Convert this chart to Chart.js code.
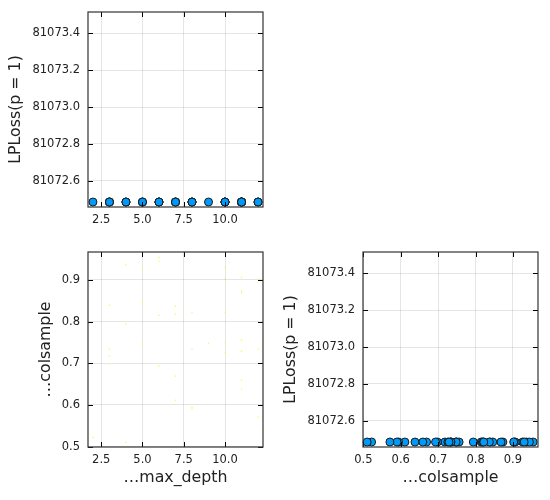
<!DOCTYPE html>
<html lang="en">
<head>
    <meta charset="UTF-8">
    <title>Corner plot</title>
    <script src="https://cdn.jsdelivr.net/npm/chart.js@4.4.0/dist/chart.umd.min.js"></script>
    <style>
        body { margin: 0; background: #fff; }
        #panneau { position: relative; width: 550px; height: 500px; }
        canvas { position: absolute; }
    </style>
</head>
<body>
<div id="panneau">
    <canvas id="chartDepthLoss" width="275" height="240" style="left:0;top:0"></canvas>
    <canvas id="chartDepthCol" width="275" height="260" style="left:0;top:240px"></canvas>
    <canvas id="chartColLoss" width="275" height="260" style="left:275px;top:240px"></canvas>
</div>

<script>
    // valeurs
    const maxDepth = [4, 6, 6, 5, 10, 10, 11, 11, 11, 12, 3, 5, 6, 4, 5, 3, 7, 7, 8, 10,
        10, 11, 9, 8, 12, 3, 3, 6, 2, 4, 10, 11, 7, 11, 11, 7, 8, 8, 12];
    const colsample = [0.936, 0.954, 0.944, 0.926, 0.930, 0.904, 0.906, 0.873, 0.868, 0.902,
        0.839, 0.846, 0.815, 0.794, 0.748, 0.734, 0.837, 0.818, 0.821, 0.822,
        0.750, 0.756, 0.748, 0.734, 0.734, 0.718, 0.698, 0.693, 0.522, 0.510,
        0.726, 0.729, 0.669, 0.659, 0.638, 0.611, 0.594, 0.590, 0.571];
    const lpLoss = [81072.484, 81072.484, 81072.484, 81072.484, 81072.484, 81072.484,
        81072.484, 81072.484, 81072.484, 81072.484, 81072.484, 81072.484, 81072.484,
        81072.484, 81072.484, 81072.484, 81072.484, 81072.484, 81072.484, 81072.484,
        81072.484, 81072.484, 81072.484, 81072.484, 81072.484, 81072.484, 81072.484,
        81072.484, 81072.484, 81072.484, 81072.484, 81072.484, 81072.484, 81072.484,
        81072.484, 81072.484, 81072.484, 81072.484, 81072.484];

    const depthTicks = [2.5, 5.0, 7.5, 10.0];
    const colsampleTicks = [0.5, 0.6, 0.7, 0.8, 0.9];
    const lossTicks = [81072.6, 81072.8, 81073.0, 81073.2, 81073.4];

    const depthRange = [1.7, 12.3];
    const colsampleRange = [0.499, 0.967];
    const lossRange = [81072.457, 81073.516];

    Chart.defaults.font.family = "'DejaVu Sans', sans-serif";
    Chart.defaults.color = '#222';

    // cadre + petites graduations vers l'interieur, sur les 4 cotes
    const cadre = {
        id: 'cadre',
        afterDraw(chart) {
            let ctx = chart.ctx;
            let a = chart.chartArea;
            let sx = chart.scales.x, sy = chart.scales.y;
            ctx.save();
            ctx.strokeStyle = '#000';
            ctx.lineWidth = 1;
            ctx.beginPath();
            sx.ticks.forEach(t => {
                let px = Math.round(sx.getPixelForValue(t.value)) + 0.5;
                ctx.moveTo(px, a.bottom); ctx.lineTo(px, a.bottom - 5);
                ctx.moveTo(px, a.top); ctx.lineTo(px, a.top + 5);
            });
            sy.ticks.forEach(t => {
                let py = Math.round(sy.getPixelForValue(t.value)) + 0.5;
                ctx.moveTo(a.left, py); ctx.lineTo(a.left + 5, py);
                ctx.moveTo(a.right, py); ctx.lineTo(a.right - 5, py);
            });
            ctx.stroke();
            ctx.strokeStyle = '#333';
            ctx.lineWidth = 1.2;
            ctx.strokeRect(a.left, a.top, a.right - a.left, a.bottom - a.top);
            ctx.restore();
        }
    };

    let axe = (range, tickVals, titre, titrePadding) => {
        let opts = {
            type: 'linear',
            min: range[0],
            max: range[1],
            afterBuildTicks: s => { s.ticks = tickVals.map(v => ({value: v})); },
            ticks: {
                autoSkip: false,
                maxRotation: 0,
                font: {size: 11.5},
                color: '#222',
                callback: v => v.toFixed(1)
            },
            grid: {color: 'rgba(0,0,0,0.1)', lineWidth: 1, drawTicks: false},
            border: {display: false},
            title: {
                display: titre !== null,
                text: titre || '',
                font: {size: 15.8},
                color: '#222',
                padding: titrePadding
            }
        };
        return opts;
    };

    function graphique(id, xs, ys, xAxe, yAxe, hauteurX, style) {
        let points = xs.map((v, i) => ({x: v, y: ys[i]}));
        xAxe.position = 'bottom';
        xAxe.ticks.padding = 6;
        xAxe.afterFit = s => { s.height = hauteurX; s.paddingLeft = 0; s.paddingRight = 0; };
        yAxe.position = 'left';
        yAxe.ticks.padding = 8;
        yAxe.afterFit = s => { s.width = 88; s.paddingTop = 0; s.paddingBottom = 0; };
        return new Chart(document.getElementById(id).getContext('2d'), {
            type: 'scatter',
            data: {
                datasets: [Object.assign({data: points, clip: false}, style)]
            },
            options: {
                responsive: false,
                animation: false,
                devicePixelRatio: 1,
                layout: {padding: {left: 0, right: 12, top: 12, bottom: 0}},
                plugins: {legend: {display: false}, tooltip: {enabled: false}},
                scales: {x: xAxe, y: yAxe}
            },
            plugins: [cadre]
        });
    }

    const styleBleu = {
        pointRadius: 4,
        pointBackgroundColor: 'rgb(0,154,250)',
        pointBorderColor: '#1a1a1a',
        pointBorderWidth: 1
    };
    const styleJaune = {
        pointRadius: 0.8,
        pointBackgroundColor: 'rgb(245,248,120)',
        pointBorderWidth: 0
    };

    graphique('chartDepthLoss', maxDepth, lpLoss,
        axe(depthRange, depthTicks, null, 0),
        axe(lossRange, lossTicks, 'LPLoss(p = 1)', {top: 6, bottom: 0}),
        33, styleBleu);

    graphique('chartDepthCol', maxDepth, colsample,
        axe(depthRange, depthTicks, '…max_depth', {top: 0, bottom: 12.5}),
        axe(colsampleRange, colsampleTicks, '…colsample', {top: 36.5, bottom: 0}),
        53, styleJaune);

    graphique('chartColLoss', colsample, lpLoss,
        axe(colsampleRange, colsampleTicks, '…colsample', {top: 0, bottom: 12.5}),
        axe(lossRange, lossTicks, 'LPLoss(p = 1)', {top: 6, bottom: 0}),
        53, styleBleu);
</script>
</body>
</html>
